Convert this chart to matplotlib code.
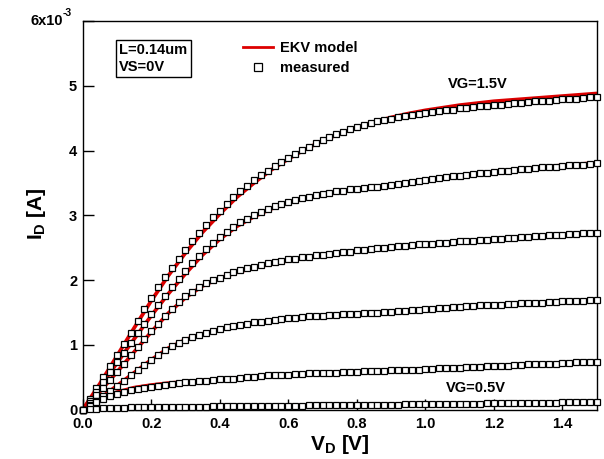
import numpy as np
import matplotlib
matplotlib.use("Agg")
import matplotlib.pyplot as plt
from matplotlib.lines import Line2D

plt.rcParams["font.family"] = ["Liberation Sans", "DejaVu Sans"]
plt.rcParams["font.weight"] = "bold"
plt.rcParams["mathtext.fontset"] = "custom"
plt.rcParams["mathtext.rm"] = "Liberation Sans:bold"
plt.rcParams["mathtext.it"] = "Liberation Sans:bold"
plt.rcParams["mathtext.bf"] = "Liberation Sans:bold"

# Drain-voltage sweeps [V]
vd_meas = np.round(np.arange(0.0, 1.5001, 0.02), 2)   # measured, 20 mV steps
vd_model = np.round(np.arange(0.0, 1.5001, 0.05), 2)  # EKV model evaluation points

gate_voltages = [1.5, 1.3, 1.1, 0.9, 0.7, 0.5]

# Measured drain current [mA]
id_meas_vg15 = [
    0.00, 0.17, 0.34, 0.51, 0.68, 0.85, 1.02, 1.19, 1.37, 1.55,
    1.72, 1.89, 2.05, 2.19, 2.32, 2.46, 2.60, 2.73, 2.85, 2.97,
    3.07, 3.18, 3.29, 3.38, 3.46, 3.54, 3.62, 3.69, 3.76, 3.83,
    3.89, 3.95, 4.01, 4.06, 4.11, 4.16, 4.21, 4.25, 4.29, 4.33,
    4.36, 4.39, 4.42, 4.45, 4.47, 4.49, 4.51, 4.53, 4.55, 4.57,
    4.58, 4.59, 4.61, 4.62, 4.63, 4.65, 4.66, 4.67, 4.68, 4.69,
    4.70, 4.71, 4.72, 4.73, 4.74, 4.75, 4.76, 4.76, 4.77, 4.78,
    4.79, 4.80, 4.80, 4.81, 4.82, 4.83]
id_meas_vg13 = [
    0.00, 0.14, 0.28, 0.43, 0.58, 0.73, 0.88, 1.03, 1.18, 1.33,
    1.48, 1.62, 1.76, 1.89, 2.02, 2.14, 2.26, 2.37, 2.48, 2.58,
    2.67, 2.75, 2.82, 2.89, 2.95, 3.00, 3.05, 3.10, 3.14, 3.18,
    3.21, 3.24, 3.27, 3.29, 3.31, 3.33, 3.35, 3.37, 3.38, 3.40,
    3.41, 3.42, 3.43, 3.44, 3.45, 3.47, 3.48, 3.50, 3.51, 3.53,
    3.54, 3.56, 3.57, 3.59, 3.60, 3.61, 3.62, 3.63, 3.65, 3.66,
    3.67, 3.68, 3.69, 3.70, 3.71, 3.72, 3.73, 3.74, 3.75, 3.75,
    3.76, 3.77, 3.78, 3.78, 3.79, 3.80]
id_meas_vg11 = [
    0.00, 0.11, 0.22, 0.34, 0.46, 0.58, 0.71, 0.84, 0.96, 1.09,
    1.21, 1.33, 1.45, 1.56, 1.66, 1.75, 1.82, 1.89, 1.95, 2.00,
    2.04, 2.08, 2.12, 2.15, 2.18, 2.21, 2.23, 2.26, 2.28, 2.30,
    2.32, 2.33, 2.35, 2.36, 2.38, 2.39, 2.40, 2.42, 2.43, 2.44,
    2.46, 2.47, 2.48, 2.49, 2.50, 2.51, 2.52, 2.53, 2.54, 2.55,
    2.56, 2.56, 2.57, 2.58, 2.59, 2.60, 2.60, 2.61, 2.62, 2.62,
    2.63, 2.64, 2.65, 2.65, 2.66, 2.67, 2.68, 2.68, 2.69, 2.69,
    2.70, 2.71, 2.71, 2.72, 2.72, 2.73]
id_meas_vg09 = [
    0.00, 0.07, 0.14, 0.21, 0.29, 0.37, 0.45, 0.53, 0.61, 0.69,
    0.77, 0.85, 0.92, 0.98, 1.03, 1.08, 1.12, 1.16, 1.19, 1.22,
    1.25, 1.27, 1.29, 1.31, 1.33, 1.35, 1.36, 1.37, 1.39, 1.40,
    1.41, 1.42, 1.43, 1.44, 1.44, 1.45, 1.46, 1.46, 1.47, 1.48,
    1.48, 1.49, 1.49, 1.50, 1.51, 1.51, 1.52, 1.53, 1.54, 1.54,
    1.55, 1.56, 1.57, 1.57, 1.58, 1.59, 1.60, 1.60, 1.61, 1.61,
    1.62, 1.62, 1.63, 1.63, 1.64, 1.64, 1.65, 1.65, 1.66, 1.66,
    1.67, 1.67, 1.68, 1.68, 1.69, 1.69]
id_meas_vg07 = [
    0.00, 0.06, 0.12, 0.17, 0.21, 0.25, 0.28, 0.30, 0.32, 0.34,
    0.35, 0.37, 0.38, 0.39, 0.41, 0.42, 0.43, 0.44, 0.45, 0.46,
    0.47, 0.47, 0.48, 0.49, 0.50, 0.51, 0.52, 0.53, 0.53, 0.54,
    0.54, 0.55, 0.55, 0.56, 0.56, 0.57, 0.57, 0.57, 0.58, 0.58,
    0.58, 0.59, 0.59, 0.60, 0.60, 0.61, 0.61, 0.61, 0.62, 0.62,
    0.63, 0.63, 0.64, 0.64, 0.65, 0.65, 0.66, 0.66, 0.66, 0.67,
    0.67, 0.68, 0.68, 0.69, 0.69, 0.70, 0.70, 0.71, 0.71, 0.71,
    0.72, 0.72, 0.73, 0.73, 0.74, 0.74]
id_meas_vg05 = [
    0.000, 0.010, 0.018, 0.024, 0.028, 0.031, 0.033, 0.035, 0.037, 0.038,
    0.040, 0.041, 0.042, 0.043, 0.044, 0.046, 0.047, 0.048, 0.049, 0.050,
    0.051, 0.052, 0.053, 0.054, 0.055, 0.056, 0.057, 0.058, 0.059, 0.060,
    0.062, 0.063, 0.064, 0.065, 0.066, 0.067, 0.068, 0.069, 0.071, 0.072,
    0.073, 0.074, 0.075, 0.077, 0.078, 0.079, 0.080, 0.081, 0.083, 0.084,
    0.085, 0.086, 0.088, 0.089, 0.090, 0.091, 0.093, 0.094, 0.095, 0.097,
    0.098, 0.099, 0.101, 0.102, 0.103, 0.105, 0.106, 0.107, 0.109, 0.110,
    0.112, 0.113, 0.115, 0.116, 0.118, 0.119]

# EKV model drain current [mA]
id_model_vg15 = [0.00, 0.40, 0.83, 1.26, 1.68, 2.07, 2.42, 2.74, 3.02, 3.28,
                 3.50, 3.70, 3.87, 4.02, 4.15, 4.26, 4.36, 4.44, 4.51, 4.57,
                 4.62, 4.66, 4.70, 4.73, 4.76, 4.78, 4.80, 4.82, 4.84, 4.86, 4.88]
id_model_vg13 = [0.00, 0.35, 0.72, 1.09, 1.45, 1.79, 2.10, 2.39, 2.63, 2.83,
                 2.98, 3.10, 3.19, 3.26, 3.31, 3.36, 3.40, 3.44, 3.47, 3.51,
                 3.54, 3.58, 3.61, 3.64, 3.67, 3.70, 3.72, 3.75, 3.77, 3.79, 3.81]
id_model_vg11 = [0.00, 0.28, 0.58, 0.89, 1.20, 1.49, 1.73, 1.91, 2.03, 2.12,
                 2.19, 2.25, 2.30, 2.34, 2.38, 2.42, 2.45, 2.48, 2.51, 2.53,
                 2.55, 2.57, 2.59, 2.61, 2.63, 2.65, 2.67, 2.68, 2.70, 2.71, 2.73]
id_model_vg09 = [0.00, 0.17, 0.37, 0.57, 0.77, 0.95, 1.08, 1.17, 1.24, 1.30,
                 1.34, 1.38, 1.41, 1.43, 1.45, 1.47, 1.48, 1.50, 1.51, 1.53,
                 1.55, 1.57, 1.59, 1.60, 1.62, 1.63, 1.64, 1.65, 1.67, 1.68, 1.69]
id_model_vg07 = [0.00, 0.16, 0.27, 0.34, 0.38, 0.41, 0.43, 0.45, 0.47, 0.49,
                 0.51, 0.53, 0.54, 0.55, 0.57, 0.58, 0.59, 0.60, 0.61, 0.62,
                 0.63, 0.64, 0.65, 0.66, 0.67, 0.68, 0.69, 0.70, 0.71, 0.72, 0.73]
id_model_vg05 = [0.000, 0.021, 0.031, 0.036, 0.040, 0.043, 0.046, 0.048, 0.051, 0.054,
                 0.056, 0.059, 0.062, 0.064, 0.067, 0.070, 0.073, 0.076, 0.079, 0.082,
                 0.085, 0.088, 0.091, 0.095, 0.098, 0.101, 0.105, 0.108, 0.112, 0.115, 0.119]

meas_curves = [id_meas_vg15, id_meas_vg13, id_meas_vg11,
               id_meas_vg09, id_meas_vg07, id_meas_vg05]
model_curves = [id_model_vg15, id_model_vg13, id_model_vg11,
                id_model_vg09, id_model_vg07, id_model_vg05]

y_ticks = [0, 1, 2, 3, 4, 5, 6]
y_tick_labels = ["0", "1", "2", "3", "4", "5", ""]
x_ticks = [0.0, 0.2, 0.4, 0.6, 0.8, 1.0, 1.2, 1.4]

RED = "#dd0000"
FS = 10.5

fig = plt.figure(figsize=(6.04, 4.59), dpi=100)
ax = fig.add_axes([0.1369, 0.1074, 0.851, 0.847])

for imod in model_curves:
    ax.plot(vd_model, np.array(imod) * 1e-3, color=RED, lw=2.7,
            solid_capstyle="round", zorder=2)
for imeas in meas_curves:
    ax.plot(vd_meas, np.array(imeas) * 1e-3, linestyle="none", marker="s",
            ms=5.0, mfc="white", mec="black", mew=0.9, zorder=3, clip_on=False)

ax.set_xlim(0, 1.5)
ax.set_ylim(0, 6e-3)
ax.set_xticks(x_ticks)
ax.set_xticklabels([f"{v:.1f}" for v in x_ticks])
ax.set_yticks([t * 1e-3 for t in y_ticks])
ax.set_yticklabels(y_tick_labels)
ax.tick_params(axis="both", direction="in", length=8, width=1.0,
               labelsize=FS, top=False, right=False)
ax.tick_params(axis="x", pad=5)
ax.tick_params(axis="y", pad=4)
for lab in ax.get_xticklabels() + ax.get_yticklabels():
    lab.set_fontweight("bold")
for sp in ax.spines.values():
    sp.set_linewidth(1.0)

# Exponent at the top of the current axis
fig.text(63 / 604, 1 - 21 / 459, "6x10", ha="right", va="center",
         fontsize=FS, fontweight="bold")
fig.text(63 / 604, 1 - 13 / 459, "-3", ha="left", va="center",
         fontsize=7.5, fontweight="bold")

# Axis titles
fig.text(37 / 604, 1 - 214 / 459, r"$\mathrm{I_D}$ [A]", rotation=90,
         ha="center", va="center", fontsize=15, fontweight="bold")
fig.text(340 / 604, 1 - 445 / 459, r"$\mathrm{V_D}$ [V]",
         ha="center", va="center", fontsize=15, fontweight="bold")

# Device conditions
ax.text(0.0712, 0.942, "L=0.14um\nVS=0V", transform=ax.transAxes,
        ha="left", va="top", fontsize=FS, fontweight="bold", linespacing=1.2,
        bbox=dict(boxstyle="square,pad=0.25", fc="white", ec="black", lw=1.0))

# Legend
handles = [Line2D([], [], color=RED, lw=2.0),
           Line2D([], [], linestyle="none", marker="s", ms=6, mfc="white",
                  mec="black", mew=0.9)]
ax.legend(handles, ["EKV model", "measured"], loc="upper left",
          bbox_to_anchor=(0.312, 0.948), frameon=False, borderpad=0,
          borderaxespad=0, handlelength=2.05, handletextpad=0.5,
          labelspacing=0.4, prop={"size": FS, "weight": "bold"})

# Curve annotations
ax.text(1.154, 5.03e-3, "VG=1.5V", ha="center", va="center",
        fontsize=FS, fontweight="bold")
ax.text(1.148, 0.34e-3, "VG=0.5V", ha="center", va="center",
        fontsize=FS, fontweight="bold")

fig.savefig("out.png", dpi=100)
